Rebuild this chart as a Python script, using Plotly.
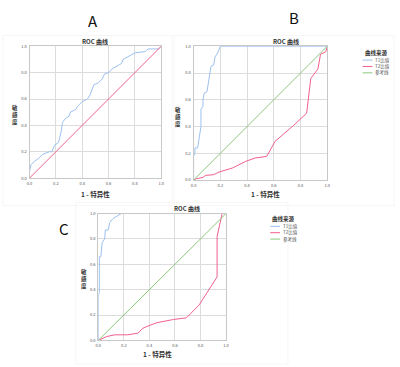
import plotly.graph_objects as go

# Panel A
a_fpr = [0, 0, 0.01, 0.04, 0.07, 0.10, 0.15, 0.17, 0.19, 0.22, 0.24, 0.25, 0.27, 0.30, 0.31, 0.35, 0.37, 0.40,
         0.44, 0.46, 0.47, 0.49, 0.52, 0.55, 0.57, 0.60, 0.63, 0.67, 0.70, 0.71, 0.75, 0.80, 0.88, 0.90, 0.98, 1.0]
a_tpr = [0, 0.05, 0.10, 0.13, 0.15, 0.18, 0.20, 0.20, 0.25, 0.27, 0.35, 0.42, 0.45, 0.47, 0.50, 0.52, 0.55, 0.58,
         0.60, 0.63, 0.66, 0.71, 0.72, 0.75, 0.79, 0.80, 0.83, 0.85, 0.87, 0.90, 0.92, 0.95, 0.96, 0.98, 0.98, 1.0]

# Panel B
b_t1_fpr = [0, 0, 0.01, 0.01, 0.03, 0.04, 0.05, 0.055, 0.055, 0.07, 0.07, 0.08, 0.10, 0.11, 0.12, 0.13, 0.15,
            0.16, 0.18, 0.19, 0.20, 1.0]
b_t1_tpr = [0, 0.18, 0.20, 0.24, 0.24, 0.30, 0.35, 0.40, 0.53, 0.55, 0.60, 0.65, 0.66, 0.72, 0.80, 0.85, 0.86,
            0.92, 0.95, 0.98, 1.0, 1.0]
b_t2_fpr = [0, 0.02, 0.07, 0.09, 0.15, 0.19, 0.29, 0.39, 0.46, 0.547, 0.61, 0.75, 0.846, 0.877, 0.93, 0.95, 0.99, 1.0]
b_t2_tpr = [0, 0.01, 0.02, 0.035, 0.04, 0.06, 0.09, 0.14, 0.165, 0.177, 0.29, 0.41, 0.50, 0.76, 0.83, 0.94, 0.96, 1.0]

# Panel C
c_t1_fpr = [0, 0, 0.008, 0.008, 0.02, 0.03, 0.05, 0.055, 0.077, 0.09, 0.115, 0.15, 0.18, 1.0]
c_t1_tpr = [0, 0.35, 0.38, 0.66, 0.66, 0.77, 0.80, 0.87, 0.87, 0.93, 0.96, 0.98, 1.0, 1.0]
c_t2_fpr = [0, 0.03, 0.064, 0.13, 0.23, 0.31, 0.35, 0.38, 0.46, 0.59, 0.69, 0.79, 0.93, 0.93, 0.95, 0.97, 1.0]
c_t2_tpr = [0, 0.013, 0.03, 0.044, 0.044, 0.057, 0.096, 0.11, 0.14, 0.165, 0.178, 0.28, 0.50, 0.82, 0.90, 1.0, 1.0]

ref = [0, 1]
tick_vals = [0, 0.2, 0.4, 0.6, 0.8, 1.0]
tick_text = ["0.0", "0.2", "0.4", "0.6", "0.8", "1.0"]

title_txt = "ROC 曲线"
xtitle = "1 - 特异性"
ytitle = "敏<br>感<br>度"
legend_title = "曲线来源"
legend_items = ["T1比值", "T2比值", "参考线"]

BLUE = "#9CC0F0"
RED = "#F0608C"
GREEN = "#8CC87C"
FONT = "Noto Sans CJK SC, Liberation Sans, sans-serif"

W, H = 400, 367
def px(x):
    return x / W
def py(y):
    return 1 - y / H

fig = go.Figure()

# A
fig.add_trace(go.Scatter(x=a_fpr, y=a_tpr, mode="lines", line=dict(color=BLUE, width=1), xaxis="x", yaxis="y", showlegend=False))
fig.add_trace(go.Scatter(x=ref, y=ref, mode="lines", line=dict(color=RED, width=1), xaxis="x", yaxis="y", showlegend=False))
# B
fig.add_trace(go.Scatter(x=b_t1_fpr, y=b_t1_tpr, mode="lines", line=dict(color=BLUE, width=1), xaxis="x2", yaxis="y2", showlegend=False))
fig.add_trace(go.Scatter(x=b_t2_fpr, y=b_t2_tpr, mode="lines", line=dict(color=RED, width=1), xaxis="x2", yaxis="y2", showlegend=False))
fig.add_trace(go.Scatter(x=ref, y=ref, mode="lines", line=dict(color=GREEN, width=1), xaxis="x2", yaxis="y2", showlegend=False))
# C
fig.add_trace(go.Scatter(x=c_t1_fpr, y=c_t1_tpr, mode="lines", line=dict(color=BLUE, width=1), xaxis="x3", yaxis="y3", showlegend=False))
fig.add_trace(go.Scatter(x=c_t2_fpr, y=c_t2_tpr, mode="lines", line=dict(color=RED, width=1), xaxis="x3", yaxis="y3", showlegend=False))
fig.add_trace(go.Scatter(x=ref, y=ref, mode="lines", line=dict(color=GREEN, width=1), xaxis="x3", yaxis="y3", showlegend=False))

panels = {
    "": ((27, 161), (43, 177)),
    "2": ((194, 330), (43, 179)),
    "3": ((97, 227), (213, 342)),
}

axis_common = dict(range=[0, 1], tickvals=tick_vals, ticktext=tick_text, showgrid=True, gridcolor="#DCDCDC",
                   gridwidth=1, showline=True, linecolor="#C8C8C8", linewidth=1, mirror=True, zeroline=False,
                   ticks="", tickfont=dict(size=4, color="#555555", family=FONT), fixedrange=True)

layout = dict(width=W, height=H, margin=dict(l=0, r=0, t=0, b=0), paper_bgcolor="white", plot_bgcolor="white",
              showlegend=False, font=dict(family=FONT))
for suf, ((x0, x1), (y0, y1)) in panels.items():
    layout["xaxis" + suf] = dict(axis_common, domain=[px(x0), px(x1)], anchor="y" + suf, ticklabelstandoff=1)
    layout["yaxis" + suf] = dict(axis_common, domain=[py(y1), py(y0)], anchor="x" + suf, ticklabelstandoff=1)
fig.update_layout(**layout)

ann = []
def text(x, y, t, size, bold=False, color="#333333", xanchor="center"):
    s = "<b>%s</b>" % t if bold else t
    ann.append(dict(x=px(x), y=py(y), xref="paper", yref="paper", text=s, showarrow=False,
                    font=dict(size=size, color=color, family=FONT), xanchor=xanchor, yanchor="middle"))

# panel letters
text(92, 17, "A", 15, color="#111111")
text(296, 14, "B", 15, color="#111111")
text(62, 228, "C", 15, color="#111111")
# titles
text(94, 38, title_txt, 6, bold=True)
text(288, 38, title_txt, 6, bold=True)
text(187, 208, title_txt, 6, bold=True)
# x titles
text(94, 193, xtitle, 6.5, bold=True)
text(267, 193, xtitle, 6.5, bold=True)
text(157, 356, xtitle, 6.5, bold=True)
# y titles
text(12, 113, ytitle, 5.5, bold=True)
text(178, 115, ytitle, 5.5, bold=True)
text(82, 280, ytitle, 5.5, bold=True)

# legends
def legend(x, y):
    text(x, y, legend_title, 5.5, bold=True, xanchor="left")
    cols = [BLUE, RED, GREEN]
    for i, (lab, c) in enumerate(zip(legend_items, cols)):
        yy = y + 7 + i * 6.5
        fig.add_shape(type="line", xref="paper", yref="paper", x0=px(x), x1=px(x + 10), y0=py(yy), y1=py(yy),
                      line=dict(color=c, width=1))
        text(x + 11, yy, lab, 4.5, color="#555555", xanchor="left")

legend(366, 50)
legend(272, 219)

# faint chart frames
for (x0, y0, x1, y1) in [(0, 32, 172, 205), (174, 32, 398, 205), (74, 202, 290, 366)]:
    fig.add_shape(type="rect", xref="paper", yref="paper", x0=px(x0), x1=px(x1), y0=py(y1), y1=py(y0),
                  line=dict(color="#F6F6F6", width=1), layer="below")

fig.update_layout(annotations=ann)
fig.write_html("out.html", config={"displayModeBar": False},
               post_script="document.body.style.margin='0';document.body.style.padding='0';")
